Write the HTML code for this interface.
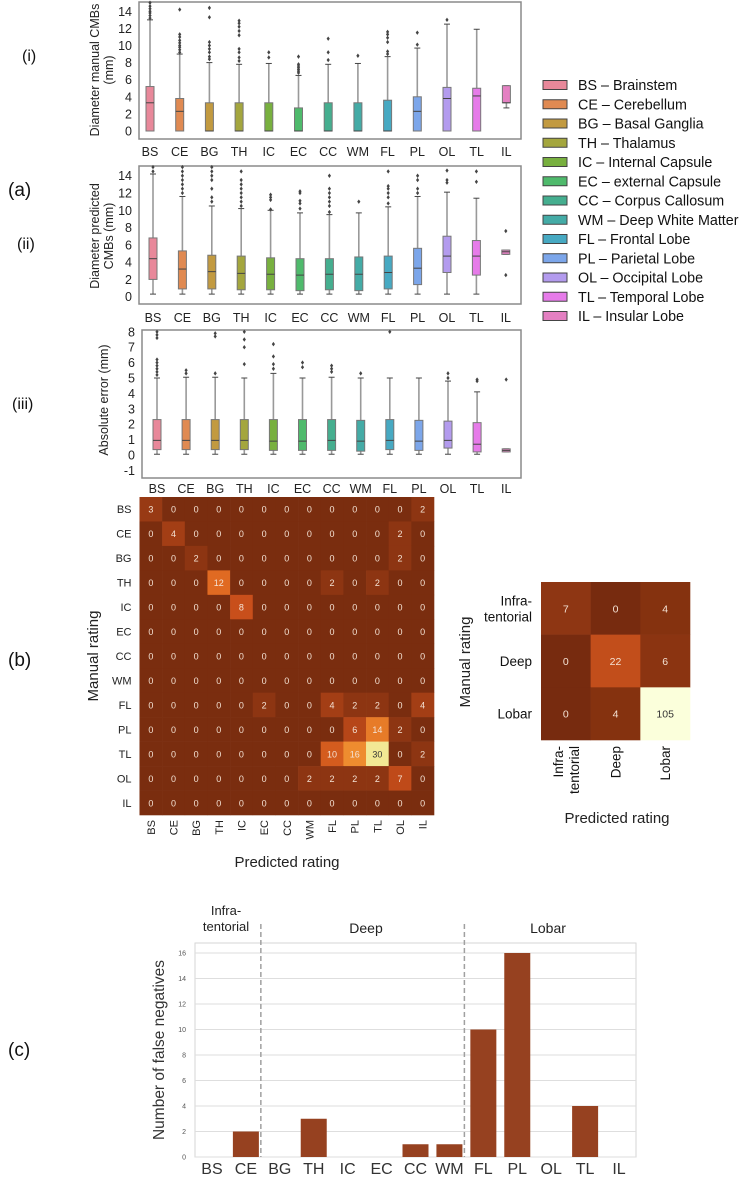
<!DOCTYPE html>
<html><head><meta charset="utf-8"><style>
body{margin:0;background:#fff;}
svg{display:block;font-family:"Liberation Sans",sans-serif;}
</style></head><body>
<svg id="fig" width="750" height="1179" viewBox="0 0 750 1179" xmlns="http://www.w3.org/2000/svg">
<g id="static">
<text x="8" y="196" font-size="19" fill="#111">(a)</text>
<text x="8" y="666" font-size="19" fill="#111">(b)</text>
<text x="8" y="1056" font-size="19" fill="#111">(c)</text>
<text x="22" y="61" font-size="16" fill="#111">(i)</text>
<text x="17" y="249" font-size="16" fill="#111">(ii)</text>
<text x="12" y="409" font-size="16" fill="#111">(iii)</text>
<text transform="translate(99,70) rotate(-90)" text-anchor="middle" font-size="12.5" fill="#222"><tspan x="0" dy="0">Diameter manual CMBs</tspan><tspan x="0" dy="14">(mm)</tspan></text>
<text transform="translate(99,236) rotate(-90)" text-anchor="middle" font-size="12.5" fill="#222"><tspan x="0" dy="0">Diameter predicted</tspan><tspan x="0" dy="14">CMBs (mm)</tspan></text>
<text transform="translate(108,400) rotate(-90)" text-anchor="middle" font-size="12.5" fill="#222">Absolute error (mm)</text>
<text transform="translate(98,656) rotate(-90)" text-anchor="middle" font-size="15" fill="#222">Manual rating</text>
<text x="287" y="867" text-anchor="middle" font-size="15" fill="#222">Predicted rating</text>
<text transform="translate(470,662) rotate(-90)" text-anchor="middle" font-size="15" fill="#222">Manual rating</text>
<text x="617" y="823" text-anchor="middle" font-size="15" fill="#222">Predicted rating</text>
<text transform="translate(164,1050) rotate(-90)" text-anchor="middle" font-size="15.5" fill="#333">Number of false negatives</text>
<text x="226" y="915" text-anchor="middle" font-size="13" fill="#222"><tspan x="226" dy="0">Infra-</tspan><tspan x="226" dy="16">tentorial</tspan></text>
<text x="366" y="933" text-anchor="middle" font-size="14" fill="#222">Deep</text>
<text x="548" y="933" text-anchor="middle" font-size="14" fill="#222">Lobar</text>
</g>
<g id="dyn"></g>
</svg>
<script>
const cats = ["BS","CE","BG","TH","IC","EC","CC","WM","FL","PL","OL","TL","IL"];
const legendNames = ["BS – Brainstem","CE – Cerebellum","BG – Basal Ganglia","TH – Thalamus","IC  – Internal Capsule","EC – external Capsule","CC – Corpus  Callosum","WM – Deep White Matter","FL – Frontal Lobe","PL – Parietal Lobe","OL – Occipital Lobe","TL – Temporal Lobe","IL – Insular Lobe"];
const catColors = ["#e8889a","#e08a52","#c29a40","#a4a63e","#78b03f","#4fba6c","#45ae8f","#44aba6","#47a9c2","#7ca6ea","#b39bee","#e67be9","#e480c2"];

const q1_i = [0,0,0,0,0,0,0,0,0,0,0,0,3.3];
const med_i = [3.3,2.3,0,0,0,0,0,0,0,2.3,3.8,4.1,3.3];
const q3_i = [5.2,3.8,3.3,3.3,3.3,2.7,3.3,3.3,3.6,4.0,5.1,5.0,5.3];
const lo_i = [0,0,0,0,0,0,0,0,0,0,0,0,2.7];
const hi_i = [13.0,9.0,8.0,7.8,7.9,6.5,7.8,7.9,8.7,9.7,12.5,11.9,5.3];
const out_i = [[13.2,13.5,13.8,14,14.3,14.6,15],[9.2,9.5,9.8,10,10.3,10.6,11,11.3,14.2],[8.4,8.7,9.2,9.6,10,10.4,13.3,14.4],[8.2,8.6,9.2,9.6,11.2,11.7,12.2,12.6,12.9],[8.6,9.2],[6.8,7,7.2,7.4,7.6,7.8,8.7],[8.3,9.2,10.8],[8.8],[9,9.3,10.4,10.9,11.3,11.6],[10.1,11.5],[13],[],[]];
const ticks_i = [0,2,4,6,8,10,12,14];
const q1_ii = [2.0,0.9,0.9,0.8,0.8,0.7,0.8,0.7,0.9,1.4,2.8,2.5,4.9];
const med_ii = [4.4,3.2,2.9,2.7,2.6,2.5,2.6,2.6,2.8,3.3,4.7,4.7,5.2];
const q3_ii = [6.8,5.3,4.8,4.7,4.5,4.4,4.4,4.6,4.7,5.6,7.0,6.5,5.4];
const lo_ii = [0.3,0.3,0.3,0.3,0.3,0.3,0.3,0.3,0.3,0.3,0.3,0.3,4.9];
const hi_ii = [14.2,11.6,10.5,10.2,10.0,9.7,9.5,9.7,10.4,11.6,12.1,11.4,5.4];
const out_ii = [[14.5,15],[12,12.5,13,13.5,14,14.5,15],[11,11.5,12.5,13.5,14,14.5,15],[10.5,11,11.5,12,12.5,13,13.5,14.5],[10.1,11.2,11.5,11.8],[10.2,10.8,11.1,12,12.2],[9.8,10.5,11,11.5,12,12.5,14],[11],[10.8,11.5,12,12.5,12.8,14.5],[12,12.5,13.5,14],[13.2,13.5,14.6],[13.3,14.5],[7.6,2.5]];
const ticks_ii = [0,2,4,6,8,10,12,14];
const q1_iii = [0.35,0.35,0.35,0.35,0.3,0.3,0.3,0.25,0.35,0.3,0.45,0.2,0.2];
const med_iii = [0.95,0.95,0.95,0.95,0.9,0.9,0.95,0.9,0.95,0.9,0.95,0.7,0.3];
const q3_iii = [2.3,2.3,2.3,2.3,2.3,2.3,2.3,2.25,2.3,2.25,2.2,2.1,0.4];
const lo_iii = [0.05,0.05,0.05,0.05,0.05,0.05,0.05,0.05,0.05,0.05,0.05,0.05,0.2];
const hi_iii = [5,5.05,5.05,5,5.3,5,5.05,5,5,5,4.8,4.1,0.4];
const out_iii = [[5.2,5.4,5.6,5.8,6,6.2,7.6,7.8,8],[5.3,5.5],[5.3,7.7,7.9],[5.9,7,7.5,8],[5.6,5.9,6.4,7.2],[5.7,6],[5.4,5.6,5.8],[5.3],[8],[],[5.0,5.3],[4.8,4.9],[4.9]];
const ticks_iii = [-1,0,1,2,3,4,5,6,7,8];

const hmRows = ["BS","CE","BG","TH","IC","EC","CC","WM","FL","PL","TL","OL","IL"];
const hmCols = ["BS","CE","BG","TH","IC","EC","CC","WM","FL","PL","TL","OL","IL"];
const hmValues = [
[3,0,0,0,0,0,0,0,0,0,0,0,2],
[0,4,0,0,0,0,0,0,0,0,0,2,0],
[0,0,2,0,0,0,0,0,0,0,0,2,0],
[0,0,0,12,0,0,0,0,2,0,2,0,0],
[0,0,0,0,8,0,0,0,0,0,0,0,0],
[0,0,0,0,0,0,0,0,0,0,0,0,0],
[0,0,0,0,0,0,0,0,0,0,0,0,0],
[0,0,0,0,0,0,0,0,0,0,0,0,0],
[0,0,0,0,0,2,0,0,4,2,2,0,4],
[0,0,0,0,0,0,0,0,0,6,14,2,0],
[0,0,0,0,0,0,0,0,10,16,30,0,2],
[0,0,0,0,0,0,0,2,2,2,2,7,0],
[0,0,0,0,0,0,0,0,0,0,0,0,0]];
const regRows = [["Infra-","tentorial"],["Deep"],["Lobar"]];
const regCols = [["Infra-","tentorial"],["Deep"],["Lobar"]];
const regValues = [[7,0,4],[0,22,6],[0,4,105]];
const barCats = ["BS","CE","BG","TH","IC","EC","CC","WM","FL","PL","OL","TL","IL"];
const barValues = [0,2,0,3,0,0,1,1,10,16,0,4,0];
const barTicks = [0,2,4,6,8,10,12,14,16];

const NS = "http://www.w3.org/2000/svg";
const dyn = document.getElementById('dyn');
function mk(tag, attrs, parent){const e=document.createElementNS(NS,tag);for(const k in attrs)e.setAttribute(k,attrs[k]);(parent||dyn).appendChild(e);return e;}
function hex(c){return [parseInt(c.slice(1,3),16),parseInt(c.slice(3,5),16),parseInt(c.slice(5,7),16)];}
function lerpColor(stops,t){t=Math.max(0,Math.min(1,t));for(let i=1;i<stops.length;i++){if(t<=stops[i][0]){const a=stops[i-1],b=stops[i];const f=(t-a[0])/(b[0]-a[0]);const ca=hex(a[1]),cb=hex(b[1]);return 'rgb('+ca.map((v,j)=>Math.round(v+(cb[j]-v)*f)).join(',')+')';}}return stops[stops.length-1][1];}

function boxPanel(name, g, q1, med, q3, lo, hi, outs, ticks){
  const y = v => g.y0 - v*g.k;
  const x = i => g.x0 + i*g.dx;
  const fr = mk('rect',{x:g.left,y:g.top,width:g.right-g.left,height:g.bottom-g.top,fill:'none',stroke:'#8a8a8a','stroke-width':1.5});
  
  
  ticks.forEach(t=>{
    const tx = mk('text',{x:g.left-7,y:y(t)+4.5,'text-anchor':'end','font-size':12.5,fill:'#222'});
    tx.textContent=t;
    
    
  });
  cats.forEach((c,i)=>{
    const grp = mk('g',{});
    
    
    const cx=x(i), w=8;
    mk('line',{x1:cx,x2:cx,y1:y(q3[i]),y2:y(hi[i]),stroke:'#999','stroke-width':1.6},grp);
    mk('line',{x1:cx,x2:cx,y1:y(q1[i]),y2:y(lo[i]),stroke:'#999','stroke-width':1.6},grp);
    mk('line',{x1:cx-3,x2:cx+3,y1:y(hi[i]),y2:y(hi[i]),stroke:'#444','stroke-width':1},grp);
    mk('line',{x1:cx-3,x2:cx+3,y1:y(lo[i]),y2:y(lo[i]),stroke:'#444','stroke-width':1},grp);
    mk('rect',{x:cx-w/2,y:y(q3[i]),width:w,height:Math.max(1,y(q1[i])-y(q3[i])),fill:catColors[i],stroke:'#777','stroke-width':1},grp);
    mk('line',{x1:cx-w/2,x2:cx+w/2,y1:y(med[i]),y2:y(med[i]),stroke:'#444','stroke-width':1},grp);
    outs[i].forEach(v=>{ if(y(v)>=g.top-1) mk('path',{d:`M${cx},${y(v)-2.2}L${cx+1.6},${y(v)}L${cx},${y(v)+2.2}L${cx-1.6},${y(v)}Z`,fill:'#444'},grp); });
    const lb = mk('text',{x:cx,y:g.lab,'text-anchor':'middle','font-size':12.5,fill:'#222'});
    lb.textContent=c;
    
    
  });
}
boxPanel('plot-i',{left:139,right:521,top:2,bottom:139,y0:131,k:8.55,x0:150,dx:29.7,lab:156},q1_i,med_i,q3_i,lo_i,hi_i,out_i,ticks_i);
boxPanel('plot-ii',{left:139,right:521,top:166,bottom:304,y0:296.7,k:8.64,x0:153,dx:29.4,lab:322},q1_ii,med_ii,q3_ii,lo_ii,hi_ii,out_ii,ticks_ii);
boxPanel('plot-iii',{left:142,right:521,top:330,bottom:478,y0:455,k:15.4,x0:157,dx:29.1,lab:493},q1_iii,med_iii,q3_iii,lo_iii,hi_iii,out_iii,ticks_iii);

legendNames.forEach((n,i)=>{
  const yy = 85 + i*19.25;
  const g = mk('g',{});
  
  
  mk('rect',{x:543,y:yy-4.5,width:24,height:9,fill:catColors[i],stroke:'#444','stroke-width':1},g);
  const t = mk('text',{x:578,y:yy+5,'font-size':14.3,fill:'#111'},g);
  t.textContent=n;
});

const hmStops=[[0,'#7a2d0f'],[0.067,'#8d3512'],[0.133,'#a33e15'],[0.27,'#c94f1b'],[0.4,'#e06a22'],[0.53,'#ee8b2e'],[1,'#f2e894']];
const hm={left:139.5,top:497,w:(434-139.5)/13,h:(815-497)/13};
const hmMax = Math.max(...hmValues.flat());
hmValues.forEach((row,r)=>row.forEach((v,c)=>{
  const cell = mk('rect',{x:hm.left+c*hm.w,y:hm.top+r*hm.h,width:hm.w+0.3,height:hm.h+0.3,fill:lerpColor(hmStops,v/hmMax)});
  
  
  const t = mk('text',{x:hm.left+(c+0.5)*hm.w,y:hm.top+(r+0.5)*hm.h+3.5,'text-anchor':'middle','font-size':9,fill:v/hmMax>0.8?'#333':'#f4e2d4'});
  t.textContent=v;
  
  
}));
hmRows.forEach((n,r)=>{
  const t = mk('text',{x:hm.left-8,y:hm.top+(r+0.5)*hm.h+4,'text-anchor':'end','font-size':11,fill:'#222'});
  t.textContent=n;
  
  
});
hmCols.forEach((n,c)=>{
  const cx=hm.left+(c+0.5)*hm.w;
  const t = mk('text',{transform:`translate(${cx+4},820) rotate(-90)`,'text-anchor':'end','font-size':11,fill:'#222'});
  t.textContent=n;
  
  
});

const regStops=[[0,'#772b0f'],[0.04,'#86320f'],[0.07,'#8f3613'],[0.21,'#c24e1b'],[0.5,'#e9a24a'],[1,'#fbffdb']];
const rg={left:541,top:582,w:(690-541)/3,h:(740-582)/3};
const regMax=Math.max(...regValues.flat());
regValues.forEach((row,r)=>row.forEach((v,c)=>{
  const cell = mk('rect',{x:rg.left+c*rg.w,y:rg.top+r*rg.h,width:rg.w+0.3,height:rg.h+0.3,fill:lerpColor(regStops,v/regMax)});
  
  
  const t = mk('text',{x:rg.left+(c+0.5)*rg.w,y:rg.top+(r+0.5)*rg.h+4,'text-anchor':'middle','font-size':10.5,fill:v/regMax>0.8?'#333':'#f4e2d4'});
  t.textContent=v;
  
  
}));
regRows.forEach((lines,r)=>{
  const cy=rg.top+(r+0.5)*rg.h;
  const t = mk('text',{x:532,y:cy+5-(lines.length-1)*8,'text-anchor':'end','font-size':13.5,fill:'#111'});
  lines.forEach((l,j)=>{const ts=mk('tspan',{x:532,dy:j?16:0},t);ts.textContent=l;});
  
  
});
regCols.forEach((lines,c)=>{
  const cx=rg.left+(c+0.5)*rg.w;
  const t = mk('text',{transform:`translate(${cx+5-(lines.length-1)*8},746) rotate(-90)`,'text-anchor':'end','font-size':13.5,fill:'#111'});
  lines.forEach((l,j)=>{const ts=mk('tspan',{x:0,dy:j?16:0},t);ts.textContent=l;});
  
  
});

const bc={left:195,right:636,top:943,bottom:1157,k:12.75};
const bw=(bc.right-bc.left)/barCats.length;
const by=v=>bc.bottom-v*bc.k;
const bfr = mk('rect',{x:bc.left,y:bc.top,width:bc.right-bc.left,height:bc.bottom-bc.top,fill:'none',stroke:'#d6d6d6','stroke-width':1});


barTicks.forEach(t=>{
  const gl = mk('line',{x1:bc.left,x2:bc.right,y1:by(t),y2:by(t),stroke:'#dedede','stroke-width':1});
  
  
  const tx = mk('text',{x:bc.left-9,y:by(t)+2.5,'text-anchor':'end','font-size':7,fill:'#555'});
  tx.textContent=t;
  
  
});
barCats.forEach((c,i)=>{
  const cx=bc.left+(i+0.5)*bw;
  if(barValues[i]>0){
    const b = mk('rect',{x:cx-13,y:by(barValues[i]),width:26,height:bc.bottom-by(barValues[i]),fill:'#964120'});
    
    
  }
  const t = mk('text',{x:cx,y:1174,'text-anchor':'middle','font-size':16,fill:'#333'});
  t.textContent=c;
  
  
});
[2,8].forEach(k=>{
  const xx=bc.left+k*bw-2;
  const d = mk('line',{x1:xx,x2:xx,y1:924,y2:bc.bottom,stroke:'#a0a0a0','stroke-width':1.5,'stroke-dasharray':'5,3'});
  
  
});
</script>
</body></html>
